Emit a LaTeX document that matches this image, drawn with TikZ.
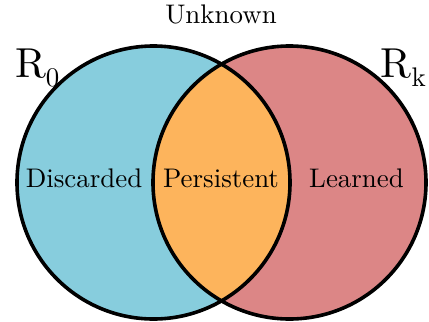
\documentclass[tikz,border=0pt]{standalone}
\usepackage{fontspec}
\setmainfont{lmroman10-regular.otf}
\definecolor{cblue}{RGB}{135,205,221}
\definecolor{cred}{RGB}{220,134,134}
\definecolor{corange}{RGB}{253,180,92}
\tikzset{
  lbl/.style={font=\fontsize{27}{30}\selectfont, inner sep=0pt, anchor=base},
  big/.style={font=\fontsize{42}{48}\selectfont, inner sep=0pt},
  ring/.style={line width=3.6bp, draw=black}
}
\newcommand{\mysub}[1]{\raisebox{-0.22em}{\fontsize{27}{30}\selectfont #1}}
\begin{document}
\begin{tikzpicture}[x=1bp,y=-1bp]
\useasboundingbox (0,0) rectangle (429,322);
\coordinate (cl) at (153.5,182.5);
\coordinate (cr) at (289.5,182.5);
\fill[cblue] (cl) circle[radius=136.5bp];
\fill[cred] (cr) circle[radius=136.5bp];
\begin{scope}
  \clip (cl) circle[radius=136.5bp];
  \fill[corange] (cr) circle[radius=136.5bp];
\end{scope}
\draw[ring] (cl) circle[radius=136.5bp];
\draw[ring] (cr) circle[radius=136.5bp];
\node[lbl] (disc) at (84,187.5) {Discarded};
\node[lbl] (pers) at (221,187.5) {Persistent};
\node[lbl] (lear) at (356.5,187.5) {Learned};
\node[lbl] (unk) at (221,23) {Unknown};
\node[big, anchor=base west] (r0) at (15,77) {R\mysub{0}};
\node[big, anchor=base east] (rk) at (426,77) {R\mysub{k}};
\end{tikzpicture}
\end{document}
